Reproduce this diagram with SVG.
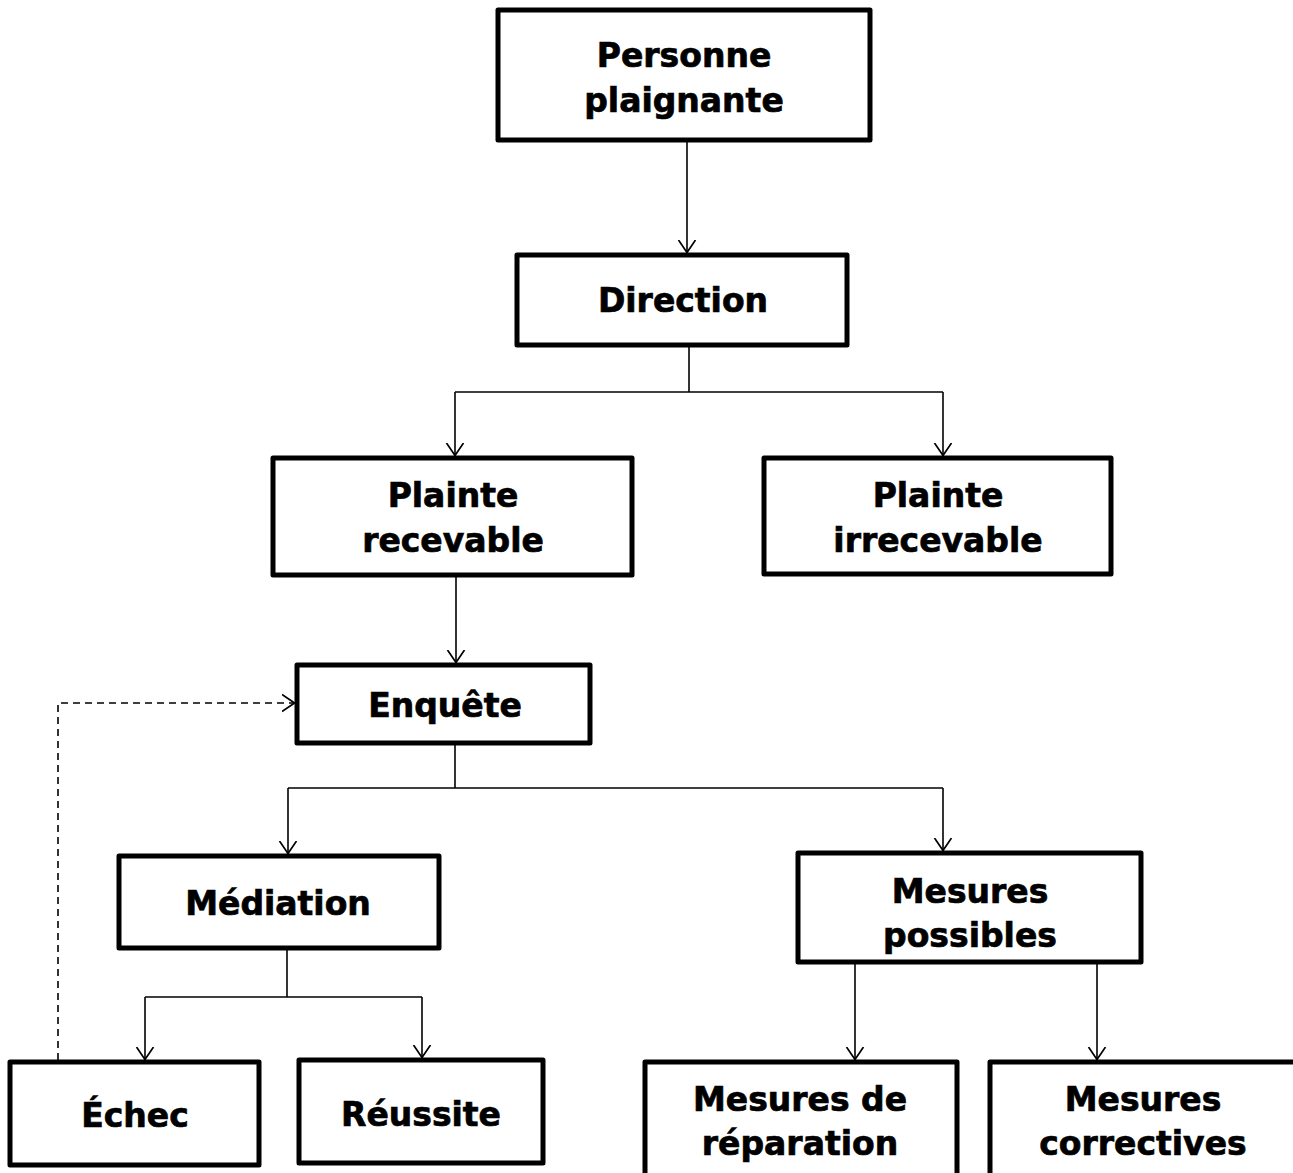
<svg xmlns="http://www.w3.org/2000/svg" width="1293" height="1173" viewBox="0 0 1293 1173">
<defs>
<marker id="arr" viewBox="0 0 13 20" refX="13" refY="10" markerWidth="13" markerHeight="20" markerUnits="userSpaceOnUse" orient="auto">
<path d="M0,1.5 L12.5,10 L0,18.5" fill="none" stroke="#000" stroke-width="1.7"/>
</marker>
<style>
.box{fill:#fff;stroke:#000;stroke-width:5;stroke-linejoin:round}
.t{font-family:"DejaVu Sans",Verdana,sans-serif;font-weight:bold;font-size:33px;text-anchor:middle;fill:#000;stroke:#000;stroke-width:0.7}
.c{fill:none;stroke:#000;stroke-width:1.6}
.d{fill:none;stroke:#000;stroke-width:1.6;stroke-dasharray:7,5}
</style>
</defs>
<rect width="1293" height="1173" fill="#fff"/>
<g id="connectors">
<line class="c" x1="687" y1="140" x2="687" y2="253" marker-end="url(#arr)"/>
<polyline class="c" points="689,345 689,392"/>
<polyline class="c" points="455,392 943,392"/>
<line class="c" x1="455" y1="392" x2="455" y2="456" marker-end="url(#arr)"/>
<line class="c" x1="943" y1="392" x2="943" y2="456" marker-end="url(#arr)"/>
<line class="c" x1="456" y1="575" x2="456" y2="663" marker-end="url(#arr)"/>
<polyline class="c" points="455,743 455,788"/>
<polyline class="c" points="288,788 943,788"/>
<line class="c" x1="288" y1="788" x2="288" y2="854" marker-end="url(#arr)"/>
<line class="c" x1="943" y1="788" x2="943" y2="851" marker-end="url(#arr)"/>
<polyline class="c" points="287,948 287,997"/>
<polyline class="c" points="145,997 422,997"/>
<line class="c" x1="145" y1="997" x2="145" y2="1060" marker-end="url(#arr)"/>
<line class="c" x1="422" y1="997" x2="422" y2="1058" marker-end="url(#arr)"/>
<line class="c" x1="855" y1="962" x2="855" y2="1060" marker-end="url(#arr)"/>
<line class="c" x1="1097" y1="962" x2="1097" y2="1060" marker-end="url(#arr)"/>
<polyline class="d" points="58,1060 58,703 295,703" marker-end="url(#arr)"/>
</g>
<g id="n-personne"><rect class="box" x="498" y="10" width="372" height="130"/><text class="t" x="684" y="67">Personne</text><text class="t" x="684" y="112">plaignante</text></g>
<g id="n-direction"><rect class="box" x="517" y="255" width="330" height="90"/><text class="t" x="683" y="312">Direction</text></g>
<g id="n-recevable"><rect class="box" x="273" y="458" width="359" height="117"/><text class="t" x="453" y="507">Plainte</text><text class="t" x="453" y="552">recevable</text></g>
<g id="n-irrecevable"><rect class="box" x="764" y="458" width="347" height="116"/><text class="t" x="938" y="507">Plainte</text><text class="t" x="938" y="552">irrecevable</text></g>
<g id="n-enquete"><rect class="box" x="297" y="665" width="293" height="78"/><text class="t" x="445" y="717">Enquête</text></g>
<g id="n-mediation"><rect class="box" x="119" y="856" width="320" height="92"/><text class="t" x="278" y="915">Médiation</text></g>
<g id="n-mesures"><rect class="box" x="798" y="853" width="343" height="109"/><text class="t" x="970" y="903">Mesures</text><text class="t" x="970" y="947">possibles</text></g>
<g id="n-echec"><rect class="box" x="10" y="1062" width="249" height="103"/><text class="t" x="135" y="1127">Échec</text></g>
<g id="n-reussite"><rect class="box" x="299" y="1060" width="244" height="103"/><text class="t" x="421" y="1126">Réussite</text></g>
<g id="n-reparation"><rect class="box" x="645" y="1062" width="312" height="130"/><text class="t" x="800" y="1111">Mesures de</text><text class="t" x="800" y="1155">réparation</text></g>
<g id="n-correctives"><rect class="box" x="990" y="1062" width="320" height="130"/><text class="t" x="1143" y="1111">Mesures</text><text class="t" x="1143" y="1155">correctives</text></g>
</svg>
